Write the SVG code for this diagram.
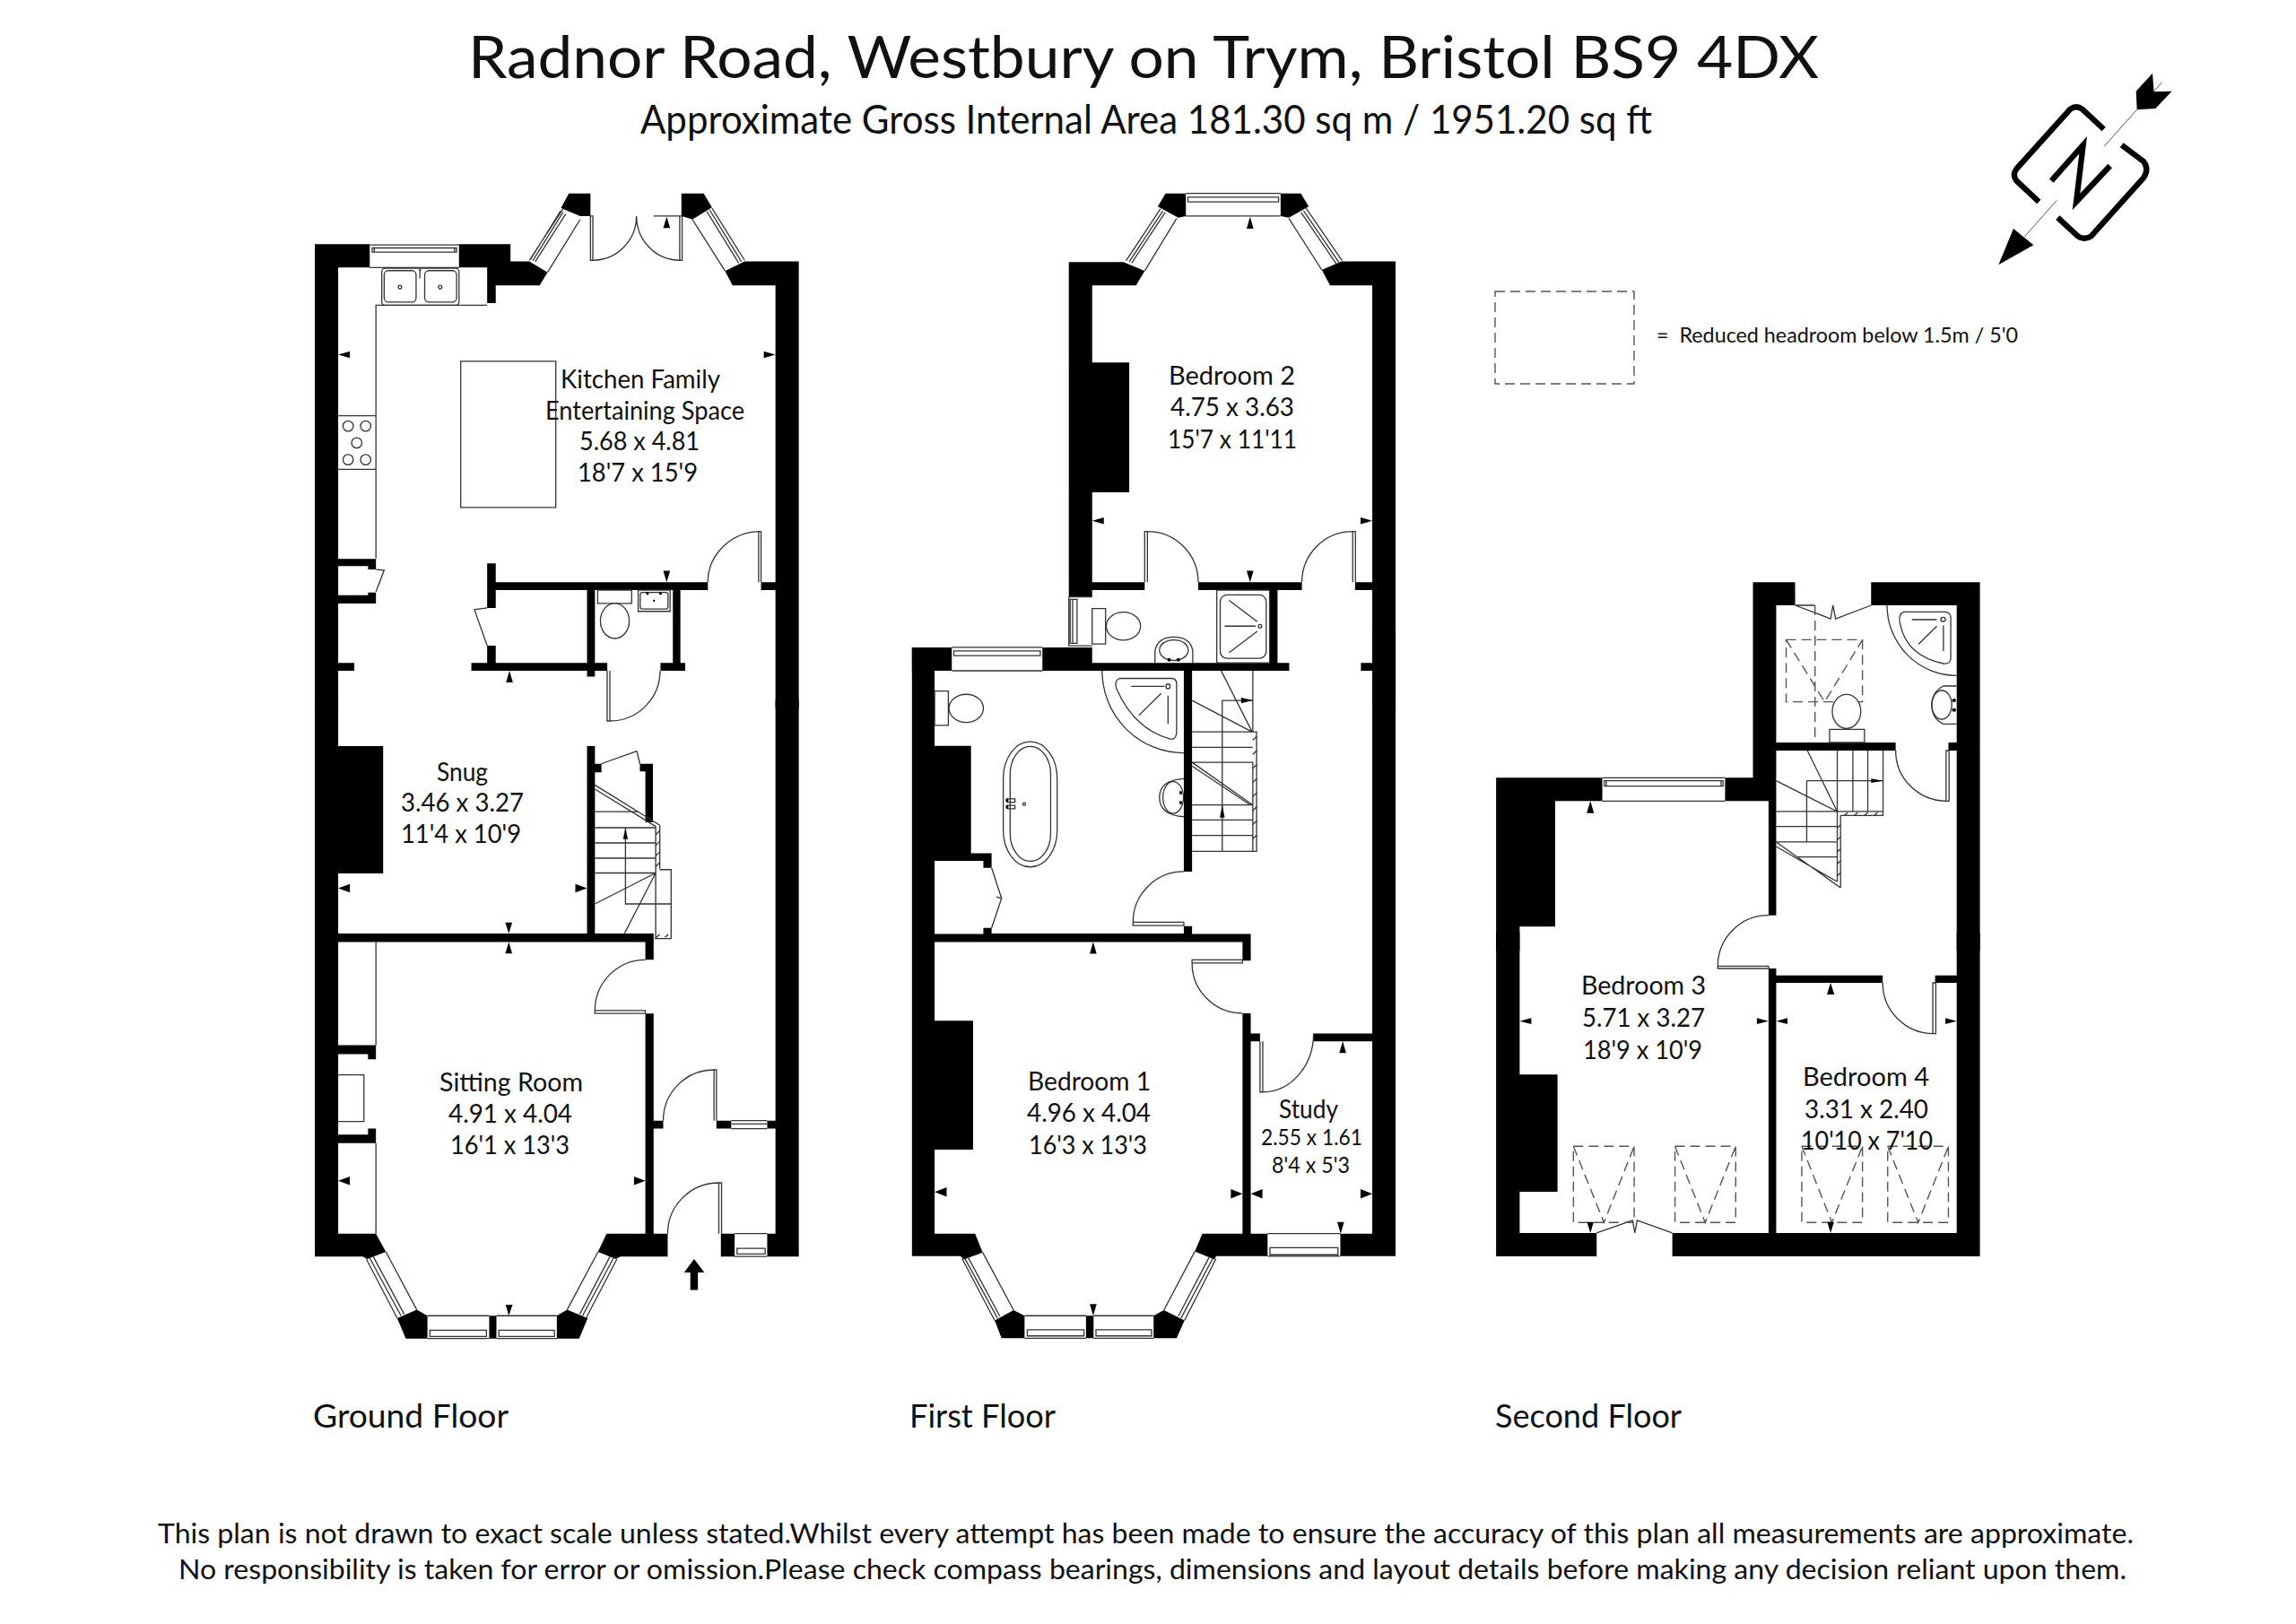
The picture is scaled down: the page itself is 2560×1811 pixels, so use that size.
<svg xmlns="http://www.w3.org/2000/svg" width="2560" height="1811" viewBox="0 0 2560 1811">
<style>
text{font-family:"Lato","Noto Sans","Liberation Sans",sans-serif;fill:#111}
.t{font-size:66px}.s{font-size:44px}.r{font-size:29px}.m{font-size:25px}.f{font-size:37px}.n{font-size:31px}.k{font-size:23px}
.w{fill:#000;stroke:none}
.l{fill:none;stroke:#333;stroke-width:1.3;vector-effect:non-scaling-stroke}
.x{fill:#fff;stroke:#333;stroke-width:1.3;vector-effect:non-scaling-stroke}
.d{fill:none;stroke:#555;stroke-width:1.4;stroke-dasharray:11 6;vector-effect:non-scaling-stroke}
.c{fill:none;stroke:#000;stroke-width:19}
.g{fill:none;stroke:#555;stroke-width:3}
</style>
<rect width="2560" height="1811" fill="#fff"/>
<g id="titles">
<text class="t" x="522" y="87" textLength="1506" lengthAdjust="spacingAndGlyphs">Radnor Road, Westbury on Trym, Bristol BS9 4DX</text>
<text class="s" x="714" y="149" textLength="1128" lengthAdjust="spacingAndGlyphs">Approximate Gross Internal Area 181.30 sq m / 1951.20 sq ft</text>
</g>
<g id="compass" transform="translate(2200,60) scale(.3333)">
<path class="c" d="M437 252L365 185Q345 170 325 185L145 385Q130 405 145 425L220 495"/>
<path class="c" d="M283 548L350 610Q372 625 395 610L570 415Q590 385 570 360L497 305"/>
<path class="c" stroke-width="17" d="M262 425L368 305L345 495L458 375"/>
<path class="g" d="M280 490L172 612M632 95L605 125M548 187L438 310"/>
<polygon class="w" points="85,706 135,585 202,640"/>
<polygon class="w" points="600,65 545,125 548,187 610,183 665,125 605,127"/>
</g>
<g id="ground-floor-rear" transform="translate(330,190) scale(.3827)">
<path class="w" d="M55 215H215V283H123V1568H55ZM475 215H625V265H680L733 297L710 335H582V387H557V283H475ZM795 67H858V133H828L772 110ZM1123 67H1188L1212 108L1155 143L1123 133ZM1307 265H1465V1568H1397V335H1272L1250 293ZM123 1132H233V1163H210V1153H123ZM123 1238H210V1230H233V1262H123ZM557 1145H582V1200H1200V1223H1120V1435H1134V1458H1062V1435H1098V1223H871V1435H907V1458H871V1475H848V1458H511V1435H557V1385H582V1435H848V1223H582V1275H557ZM1355 1200H1397V1223H1355ZM123 1435H170V1458H123Z"/>
<path class="l" d="M215 217H475M215 283H475M222 226H468V238H222ZM228 226V238M462 226V238"/>
<path class="l" d="M778 112L680 262M771 118L683 260M778 122L690 263M786 127L697 266M828 143L733 297M1212 110L1307 262M1205 115L1298 266M1197 120L1290 270M1155 143L1250 293"/>
<path class="l" d="M858 133V262H865V133H858M865 262A127 129 0 0 0 992 133M1118 262A126 129 0 0 1 992 133M1118 262H1125V133H1042M1118 262V133"/>
<path class="l" d="M233 1130V393H557M123 715H233M123 871H233"/>
<rect class="l" x="250" y="285" width="225" height="108" rx="10"/>
<rect class="l" x="257" y="292" width="93" height="92" rx="12"/>
<rect class="l" x="375" y="292" width="93" height="92" rx="12"/>
<circle class="l" cx="303" cy="340" r="5"/><circle class="l" cx="420" cy="340" r="5"/>
<path class="l" d="M361 290V315M358 290H365"/>
<circle class="l" cx="152" cy="745" r="15"/><circle class="l" cx="203" cy="745" r="15"/><circle class="l" cx="177" cy="794" r="15"/><circle class="l" cx="152" cy="843" r="15"/><circle class="l" cx="203" cy="843" r="15"/>
<rect class="l" x="480" y="556" width="277" height="426"/>
<path class="l" d="M233 1163L257 1165L233 1228M557 1275L520 1280L557 1385"/>
<path class="l" d="M1200 1200A155 148 0 0 1 1355 1052H1348V1200M1355 1052V1200"/>
<rect class="l" x="879" y="1223" width="99" height="39"/>
<ellipse class="x" cx="929" cy="1313" rx="42" ry="51"/>
<rect class="l" x="997" y="1223" width="93" height="62"/>
<rect class="l" x="1003" y="1230" width="81" height="48" rx="6"/>
<circle class="w" cx="1024" cy="1233" r="4"/><circle class="w" cx="1062" cy="1233" r="4"/><circle class="w" cx="1043" cy="1254" r="3"/>
<polygon class="w" points="123,537 157,527 157,547"/><polygon class="w" points="1397,537 1363,527 1363,547"/>
<polygon class="w" points="1080,135 1070,168 1090,168"/><polygon class="w" points="1080,1200 1070,1167 1090,1167"/><polygon class="w" points="622,1458 612,1492 632,1492"/>
</g>
<path id="cloak-door" class="l" d="M677 748V804H680V748M680 804A56 56 0 0 0 736 748"/>
<g id="ground-floor-front" transform="translate(330,780) scale(.3827,.472)">
<path class="w" d="M55 0H123V1262H233L262 1305L207 1322L195 1316H55ZM1397 0H1465V1316H1373V1262H1397ZM123 110H254V411H123ZM848 110H871V152H890V172H871V553H1042V615H1018V573H123V553H848ZM1002 152H1040V290H1018V170H1002ZM123 817H233V850H210V838H123ZM123 1028H210V1014H233V1048H123ZM1018 742H1042V995H1070V1014H1042V1262H1083V1316H945L932 1322L880 1305L905 1262H1018ZM1225 995H1268V1014H1225ZM1373 995H1397V1014H1373ZM1238 1262H1278V1316H1238ZM295 1462L352 1442L383 1456V1510H320ZM760 1456L790 1442L850 1462L825 1510H760ZM563 1456H584V1510H563Z"/>
<path class="l" d="M889 152L993 122L1002 152M871 202L1060 297M871 212L1048 300M1060 297V400M1048 300V565M871 265H1000M871 303H1048M871 339H1048M871 375H1048M871 410H1048M871 483L1048 410M957 553L1048 410M960 303V483H1092M1060 402H1093V565H1045M1048 320L1060 310M1048 345L1060 335M1048 370L1060 360M1048 395L1060 385M1050 562L1060 555M1075 562L1085 555"/>
<polygon class="w" points="960,303 953,330 967,330"/>
<path class="l" d="M871 735A147 120 0 0 1 1018 615M871 735V742H1018V735H871"/>
<path class="l" d="M233 573V817M233 1048V1262M123 887H198V997H123"/>
<path class="l" d="M1070 995A148 120 0 0 1 1218 875H1225V995M1218 875V995M1268 995H1373M1268 1003H1373M1268 1014H1373"/>
<path class="l" d="M1083 1262A149 120 0 0 1 1232 1142H1240V1262M1232 1142V1262"/>
<path class="l" d="M1278 1262H1373M1278 1316H1373M1285 1297H1367V1310H1285Z"/>
<path class="l" d="M383 1456H563M383 1510H563M390 1490H555V1505H390ZM584 1456H760M584 1510H760M591 1490H753V1505H591Z"/>
<path class="l" d="M205 1322L295 1462M215 1320L306 1456M225 1316L315 1452M262 1305L352 1442M935 1322L845 1462M925 1320L835 1456M915 1316L827 1452M880 1305L790 1442"/>
<polygon class="w" points="123,446 157,436 157,456"/><polygon class="w" points="848,446 814,436 814,456"/>
<polygon class="w" points="620,553 610,527 630,527"/><polygon class="w" points="620,573 610,600 630,600"/>
<polygon class="w" points="123,1137 157,1127 157,1147"/><polygon class="w" points="1018,1137 985,1127 985,1147"/>
<polygon class="w" points="620,1456 611,1430 631,1430"/>
<polygon class="w" points="1160,1322 1190,1354 1171,1354 1171,1395 1149,1395 1149,1354 1131,1354"/>
</g>
<g id="first-floor-rear" transform="translate(1000,190) scale(.3827)">
<path class="w" d="M501 267H660L722 293L697 335H569V1243H501ZM1295 265H1453V1568H1385V335H1262L1238 290ZM783 67H842V133L820 138L760 105ZM1118 67H1177L1200 105L1142 138L1118 133ZM569 560H677V938H569ZM569 1200H722V1223H569ZM878 1200H1180V1223H1109V1435H1143V1458H424V1390H569V1435H1086V1223H878ZM1335 1200H1385V1223H1335ZM1352 1435H1385V1458H1352ZM44 1390H160V1458H44Z"/>
<path class="l" d="M842 67H1118M842 133H1118M848 78H1112V92H848Z"/>
<path class="l" d="M768 112L668 263M775 118L677 266M782 122L684 270M815 140L722 293M1192 110L1297 263M1185 118L1288 268M1178 123L1280 272M1142 140L1238 290"/>
<path class="l" d="M722 1200V1052H730V1200M730 1052A148 148 0 0 1 878 1200M1336 1200V1052H1328V1200M1328 1052A148 148 0 0 0 1180 1200"/>
<path class="l" d="M501 1243V1385H569M501 1243H569M505 1250H525V1378H505ZM512 1250V1378M160 1390H424M160 1458H424M166 1400H418V1414H166Z"/>
<rect class="l" x="569" y="1277" width="39" height="103"/>
<ellipse class="x" cx="660" cy="1328" rx="50" ry="41"/>
<path class="l" d="M752 1435V1400Q760 1360 807 1360Q855 1360 862 1400V1435"/>
<ellipse class="l" cx="807" cy="1398" rx="42" ry="30"/>
<circle class="w" cx="793" cy="1426" r="5"/><circle class="w" cx="820" cy="1426" r="5"/>
<rect class="l" x="932" y="1223" width="154" height="212"/>
<rect class="l" x="942" y="1237" width="134" height="185" rx="20"/>
<path class="l" d="M968 1253L1050 1315M955 1328H1045M968 1405L1050 1343"/>
<circle class="l" cx="1058" cy="1328" r="5"/>
<polygon class="w" points="569,1021 603,1011 603,1031"/><polygon class="w" points="1385,1021 1351,1011 1351,1031"/>
<polygon class="w" points="1029,135 1019,170 1039,170"/><polygon class="w" points="1029,1200 1019,1167 1039,1167"/>
</g>
<g id="first-floor-front" transform="translate(1000,700) scale(.3827,.523)">
<path class="w" d="M44 42H110V1292H228L250 1332L195 1347L185 1340H44ZM1385 0H1453V1340H1292V1292H1385ZM110 252H216V481H276V512H252V497H110ZM252 640H276V652H836V636H860V653H1031V710H1007V670H110V653H252ZM836 92H860V520H836ZM1007 822H1031V865H1058V882H1031V1292H1080V1340H930L925 1347L868 1330L890 1292H1007ZM1214 865H1385V882H1214ZM110 838H222V1113H110ZM285 1477L340 1455L372 1467V1515H305ZM748 1467L778 1455L838 1477L815 1515H748ZM551 1467H573V1515H551Z"/>
<path class="l" d="M1080 1292H1292M1080 1340H1292M1087 1322H1285V1337H1087Z"/>
<path class="l" d="M372 1467H551M372 1515H551M380 1497H545V1510H380ZM573 1467H748M573 1515H748M580 1497H742V1510H580Z"/>
<path class="l" d="M190 1345L285 1477M198 1345L293 1472M207 1342L300 1468M250 1332L340 1455M930 1345L838 1477M920 1345L828 1472M910 1342L820 1468M868 1330L778 1455"/>
<path class="l" d="M688 628A148 108 0 0 1 836 520M688 628V635H836V628H688"/>
<path class="l" d="M860 715A147 107 0 0 0 1007 822M860 708H1007V715H860Z"/>
<path class="l" d="M1058 882V990H1066V882M1066 990A148 125 0 0 0 1214 865"/>
<path class="l" d="M276 512L305 577L276 640M305 577L290 574"/>
<rect class="l" x="310" y="243" width="157" height="267" rx="78" ry="78"/>
<rect class="l" x="330" y="253" width="118" height="245" rx="59" ry="59"/>
<rect class="l" x="322" y="365" width="22" height="7"/><rect class="l" x="322" y="379" width="22" height="7"/>
<circle class="w" cx="321" cy="368" r="4"/><circle class="w" cx="321" cy="382" r="4"/><ellipse class="l" cx="371" cy="376" rx="4" ry="3"/>
<rect class="l" x="110" y="135" width="40" height="73"/>
<ellipse class="x" cx="202" cy="172" rx="50" ry="30"/>
<path class="l" d="M598 92A238 175 0 0 0 836 267"/>
<path class="l" d="M650 108H800Q815 108 815 120V225Q812 240 795 237Q690 215 640 130Q632 112 650 108Z"/>
<path class="l" d="M683 125H780M705 187L770 140M790 145V205"/><ellipse class="l" cx="790" cy="125" rx="6" ry="5"/>
<path class="l" d="M836 322Q765 325 765 362Q765 400 836 403"/>
<ellipse class="l" cx="805" cy="362" rx="30" ry="34"/>
<circle class="w" cx="827" cy="352" r="4"/><circle class="w" cx="827" cy="373" r="4"/>
<path class="l" d="M860 155L1035 222M945 92L1035 222M948 155H1037M948 155V477M1037 92V222M1037 222H1048V477H860M860 222H1037M860 255H1037M860 287H1037V477M860 378H1037M860 410H1037M860 443H1037M860 287L1037 378M860 295L1030 378"/>
<path class="l" d="M1037 240L1048 232M1037 270L1048 262M1037 300L1048 292M1037 330L1048 322M1037 360L1048 352M1037 390L1048 382M1037 420L1048 412M1037 450L1048 442"/>
<polygon class="w" points="1037,155 1003,149 1003,161"/><polygon class="w" points="948,378 941,405 955,405"/>
<polygon class="w" points="110,1203 145,1193 145,1213"/><polygon class="w" points="1007,1207 973,1197 973,1217"/><polygon class="w" points="1031,1207 1065,1197 1065,1217"/><polygon class="w" points="1385,1207 1351,1197 1351,1217"/>
<polygon class="w" points="1293,1292 1283,1267 1303,1267"/><polygon class="w" points="572,670 562,695 582,695"/><polygon class="w" points="1299,882 1289,907 1309,907"/><polygon class="w" points="572,1467 562,1442 582,1442"/>
</g>
<g id="second-floor-rear" transform="translate(1660,640) scale(.37,.3333)">
<path class="w" d="M796 28H923V105H866V1142H843V760H712V682H796ZM1152 28H1480V1260H1410V105H1152ZM866 564H1226V591H866ZM1385 564H1410V591H1385ZM22 682H342V760H200V1180H93V1260H22Z"/>
<path class="l" d="M342 682H712M342 760H712M348 692H706V710H348ZM354 692V710M700 692V710"/>
<path class="l" d="M923 105L1030 150L1037 105L1045 150L1152 105M923 105H983"/>
<path class="l" d="M1226 591A154 169 0 0 0 1380 760M1378 760H1387V591H1378V760"/>
<path class="d" d="M983 105V564M896 220H1126V428H896ZM896 220L1012 428L1126 220"/>
<rect class="l" x="1027" y="520" width="105" height="44"/>
<ellipse class="x" cx="1078" cy="460" rx="43" ry="57"/>
<path class="l" d="M1200 105A210 235 0 0 0 1410 340"/>
<path class="l" d="M1250 127H1375Q1392 130 1392 145V285Q1390 302 1370 300Q1260 275 1240 170Q1232 135 1250 127Z"/>
<path class="l" d="M1275 153H1350M1295 235L1350 175M1370 172V258"/><circle class="l" cx="1369" cy="152" r="7"/>
<path class="l" d="M1410 375H1370Q1335 395 1335 438Q1335 485 1370 502H1410"/>
<ellipse class="l" cx="1365" cy="438" rx="30" ry="48"/>
<circle class="w" cx="1402" cy="423" r="6"/><circle class="w" cx="1402" cy="455" r="6"/>
<path class="l" d="M960 591L1050 795M866 692L1050 795M958 692H1188M958 692V897M866 795H1188M1050 591V795M1097 591V795M1142 591V795M1188 591V808H1060M866 845H1050M866 897H1050M1050 795V1030M1060 808V1050M866 897L1060 1050M866 912L1050 1030M932 947H1050"/>
<path class="l" d="M1072 808L1082 798M1102 808L1112 798M1132 808L1142 798M1162 808L1172 798M1050 850L1060 840M1050 890L1060 880M1050 930L1060 920M1050 970L1060 960M1050 1010L1060 1000"/>
<polygon class="w" points="1188,692 1152,685 1152,699"/>
<polygon class="w" points="306,760 295,800 317,800"/>
</g>
<g id="second-floor-front" transform="translate(1660,1040) scale(.37,.3333)">
<path class="w" d="M22 0H93V475H207V867H93V1005H325V1083H22ZM1410 0H1480V1083H553V1005H843V120H866V143H1187V168H866V1005H1410V168H1345V143H1410Z"/>
<path class="l" d="M843 -58A153 170 0 0 0 690 112V120H843V112H690"/>
<path class="l" d="M1187 168A153 170 0 0 0 1340 338H1347V168H1338V338"/>
<path class="l" d="M325 1005L433 963L440 1005L447 963L553 1005"/>
<path class="d" d="M255 715H438V970H255ZM255 715L347 970L438 715M561 715H744V970H561ZM561 715L652 970L744 715M943 715H1126V970H943ZM943 715L1034 970L1126 715M1202 715H1385V970H1202ZM1202 715L1294 970L1385 715"/>
<polygon class="w" points="93,296 128,286 128,306"/><polygon class="w" points="843,296 808,286 808,306"/><polygon class="w" points="866,296 900,286 900,306"/><polygon class="w" points="1410,296 1376,286 1376,306"/>
<polygon class="w" points="1030,168 1019,207 1041,207"/><polygon class="w" points="306,1005 296,968 316,968"/><polygon class="w" points="1030,1005 1020,968 1040,968"/>
</g>
<g id="legend">
<rect class="d" x="1667" y="325" width="155" height="103"/>
<text class="k" x="1847" y="382" textLength="403" lengthAdjust="spacingAndGlyphs" xml:space="preserve">=  Reduced headroom below 1.5m / 5'0</text>
</g>
<g id="room-labels">
<text class="r" x="625" y="433" textLength="178" lengthAdjust="spacingAndGlyphs">Kitchen Family</text>
<text class="r" x="608" y="468" textLength="222" lengthAdjust="spacingAndGlyphs">Entertaining Space</text>
<text class="r" x="646" y="502" textLength="134" lengthAdjust="spacingAndGlyphs">5.68 x 4.81</text>
<text class="r" x="644" y="537" textLength="134" lengthAdjust="spacingAndGlyphs">18'7 x 15'9</text>
<text class="r" x="487" y="871" textLength="57" lengthAdjust="spacingAndGlyphs">Snug</text>
<text class="r" x="447" y="905" textLength="137" lengthAdjust="spacingAndGlyphs">3.46 x 3.27</text>
<text class="r" x="447" y="940" textLength="134" lengthAdjust="spacingAndGlyphs">11'4 x 10'9</text>
<text class="r" x="490" y="1217" textLength="160" lengthAdjust="spacingAndGlyphs">Sitting Room</text>
<text class="r" x="500" y="1252" textLength="138" lengthAdjust="spacingAndGlyphs">4.91 x 4.04</text>
<text class="r" x="502" y="1287" textLength="133" lengthAdjust="spacingAndGlyphs">16'1 x 13'3</text>
<text class="r" x="1303" y="429" textLength="141" lengthAdjust="spacingAndGlyphs">Bedroom 2</text>
<text class="r" x="1305" y="464" textLength="138" lengthAdjust="spacingAndGlyphs">4.75 x 3.63</text>
<text class="r" x="1302" y="500" textLength="144" lengthAdjust="spacingAndGlyphs">15'7 x 11'11</text>
<text class="r" x="1146" y="1216" textLength="137" lengthAdjust="spacingAndGlyphs">Bedroom 1</text>
<text class="r" x="1145" y="1251" textLength="138" lengthAdjust="spacingAndGlyphs">4.96 x 4.04</text>
<text class="r" x="1147" y="1287" textLength="132" lengthAdjust="spacingAndGlyphs">16'3 x 13'3</text>
<text class="r" x="1426" y="1247" textLength="66" lengthAdjust="spacingAndGlyphs">Study</text>
<text class="m" x="1406" y="1277" textLength="113" lengthAdjust="spacingAndGlyphs">2.55 x 1.61</text>
<text class="m" x="1418" y="1308" textLength="87" lengthAdjust="spacingAndGlyphs">8'4 x 5'3</text>
<text class="r" x="1763" y="1109" textLength="139" lengthAdjust="spacingAndGlyphs">Bedroom 3</text>
<text class="r" x="1764" y="1145" textLength="137" lengthAdjust="spacingAndGlyphs">5.71 x 3.27</text>
<text class="r" x="1765" y="1181" textLength="133" lengthAdjust="spacingAndGlyphs">18'9 x 10'9</text>
<text class="r" x="2010" y="1211" textLength="141" lengthAdjust="spacingAndGlyphs">Bedroom 4</text>
<text class="r" x="2012" y="1247" textLength="138" lengthAdjust="spacingAndGlyphs">3.31 x 2.40</text>
<text class="r" x="2008" y="1282" textLength="147" lengthAdjust="spacingAndGlyphs">10'10 x 7'10</text>
</g>
<g id="floor-labels">
<text class="f" x="349" y="1592" textLength="218" lengthAdjust="spacingAndGlyphs">Ground Floor</text>
<text class="f" x="1014" y="1592" textLength="163" lengthAdjust="spacingAndGlyphs">First Floor</text>
<text class="f" x="1667" y="1592" textLength="208" lengthAdjust="spacingAndGlyphs">Second Floor</text>
</g>
<g id="disclaimer">
<text class="n" x="176" y="1721" textLength="2203" lengthAdjust="spacingAndGlyphs">This plan is not drawn to exact scale unless stated.Whilst every attempt has been made to ensure the accuracy of this plan all measurements are approximate.</text>
<text class="n" x="199" y="1761" textLength="2172" lengthAdjust="spacingAndGlyphs">No responsibility is taken for error or omission.Please check compass bearings, dimensions and layout details before making any decision reliant upon them.</text>
</g>
</svg>
